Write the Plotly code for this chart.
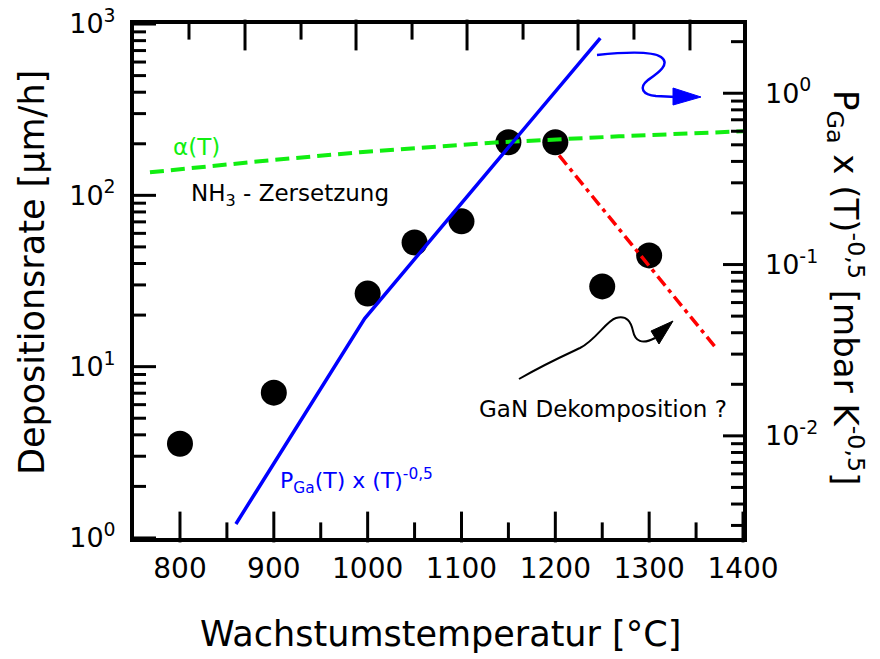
import plotly.graph_objects as go

# ---------------- data ----------------
temps = [800, 900, 1000, 1050, 1100, 1150, 1200, 1250, 1300]
rate = [3.55, 7.05, 26.7, 53.1, 70.5, 204, 204, 29.4, 44.6]

pga_T = [859.6, 996.8, 1247.9]
pga_val = [0.00306, 0.0484, 2.10]

alpha_T = [768, 885, 991.5, 1140, 1268, 1400]
alpha_val = [136.3, 158.1, 178.5, 204, 221, 236.7]

dek_T = [1204, 1371]
dek_val = [171, 12.9]

x_ticks = [800, 900, 1000, 1100, 1200, 1300, 1400]
x_minor = [850, 950, 1050, 1150, 1250, 1350]
top_major = [869.3, 987.6, 1105.9, 1224.2, 1343.5]
top_minor = [809.6, 929.0, 1047.3, 1165.6, 1283.8]

left_ticks = [1, 10, 100, 1000]
left_labels = ["10<sup>0</sup>", "10<sup>1</sup>", "10<sup>2</sup>", "10<sup>3</sup>"]
right_ticks = [0.01, 0.1, 1]
right_labels = ["10<sup>-2</sup>", "10<sup>-1</sup>", "10<sup>0</sup>"]

left_minor = [m * 10 ** e for e in range(0, 3) for m in range(2, 10)]
right_minor = [m * 10.0 ** e for e in range(-3, 1) for m in range(2, 10)]

X_RANGE = [751, 1400]
Y_RANGE = [-0.0002, 3.0002]
Y2_RANGE = [-2.5962, 0.4042]

FONT = "DejaVu Sans"
OFF = 8                      # default page margin of the html body
W, H = 880 - OFF, 659 - OFF
# plot area in window pixels: x 134..743, y 24..538
L, T = 134 - OFF, 24 - OFF
R, B = W - (743 - OFF), H - (538 - OFF)
PW, PH = W - L - R, H - T - B


def px(xp):
    return (xp - OFF - L) / PW


def py(yp):
    return (H - B - (yp - OFF)) / PH


x_per_px = (X_RANGE[1] - X_RANGE[0]) / PW
dec_per_px = (Y_RANGE[1] - Y_RANGE[0]) / PH

fig = go.Figure()

fig.add_trace(go.Scatter(x=temps, y=rate, mode="markers",
                         marker=dict(size=26, color="black"), showlegend=False))
fig.add_trace(go.Scatter(x=alpha_T, y=alpha_val, mode="lines",
                         line=dict(color="#11ee11", width=4, dash="14px,7px"),
                         showlegend=False))
fig.add_trace(go.Scatter(x=dek_T, y=dek_val, mode="lines",
                         line=dict(color="#ff0000", width=3.5, dash="12px,5px,4px,5px"),
                         showlegend=False))
fig.add_trace(go.Scatter(x=pga_T, y=pga_val, mode="lines", yaxis="y2",
                         line=dict(color="#0000ff", width=3.5), showlegend=False))

# bottom / top inside tick marks (vertical): short vertical line markers
TW = 3
for vals, ln, top in [(x_ticks, 22, False), (x_minor, 13, False),
                      (top_major, 22, True), (top_minor, 13, True)]:
    if top:
        yc = 10 ** (Y_RANGE[1] - ln / 2 * dec_per_px)
    else:
        yc = 10 ** (Y_RANGE[0] + ln / 2 * dec_per_px)
    fig.add_trace(go.Scatter(
        x=vals, y=[yc] * len(vals), mode="markers", showlegend=False,
        hoverinfo="skip", cliponaxis=False,
        marker=dict(symbol="line-ns", size=ln, color="black",
                    line=dict(color="black", width=TW))))

fig.update_layout(
    width=W, height=H,
    margin=dict(l=L, r=R, t=T, b=B, autoexpand=False),
    paper_bgcolor="white", plot_bgcolor="white",
    font=dict(family=FONT, color="black"),
    xaxis=dict(range=X_RANGE, tickvals=x_ticks, mirror=True, ticks="",
               showgrid=False, zeroline=False, showline=True, linewidth=4,
               linecolor="black", tickfont=dict(size=28), automargin=False,
               ticklabelstandoff=2, ticklabeloverflow="allow"),
    yaxis=dict(type="log", range=Y_RANGE, tickvals=left_ticks, ticktext=left_labels,
               mirror=True, showgrid=False, zeroline=False, ticks="",
               showline=True, linewidth=4, linecolor="black",
               tickfont=dict(size=27), automargin=False, ticklabelstandoff=9,
               ticklabeloverflow="allow"),
    yaxis2=dict(type="log", range=Y2_RANGE, overlaying="y", side="right",
                showgrid=False, zeroline=False, showline=False, ticks="",
                tickvals=right_ticks, ticktext=right_labels,
                tickfont=dict(size=27), automargin=False, ticklabelstandoff=21,
                ticklabeloverflow="allow"),
)

# left / right inside tick marks (horizontal)
shapes = []
for vals, ln, yref, rng, right in [(left_ticks, 22, "y", Y_RANGE, False),
                                   (left_minor, 12, "y", Y_RANGE, False),
                                   (right_ticks, 20, "y2", Y2_RANGE, True),
                                   (right_minor, 12, "y2", Y2_RANGE, True)]:
    for v in vals:
        if not (10 ** rng[0] <= v <= 10 ** rng[1]):
            continue
        if right:
            x0, x1 = X_RANGE[1], X_RANGE[1] - ln * x_per_px
        else:
            x0, x1 = X_RANGE[0], X_RANGE[0] + ln * x_per_px
        shapes.append(dict(type="line", xref="x", yref=yref, x0=x0, x1=x1,
                           y0=v, y1=v, line=dict(color="black", width=TW)))

# ---- curved annotation arrows (paper coordinates) ----
blue_path = "M {} {} C {} {} {} {} {} {} C {} {} {} {} {} {} C {} {} {} {} {} {} L {} {}".format(
    px(597), py(55), px(625), py(52), px(652), py(51), px(661), py(57),
    px(671), py(64), px(658), py(73), px(648), py(80),
    px(638), py(88), px(643), py(95), px(656), py(96), px(676), py(97))
shapes.append(dict(type="path", xref="paper", yref="paper", path=blue_path,
                   line=dict(color="#0000ff", width=2.5)))
shapes.append(dict(type="path", xref="paper", yref="paper",
                   path="M {} {} L {} {} L {} {} Z".format(px(673), py(88), px(701), py(97), px(673), py(105)),
                   fillcolor="#0000ff", line=dict(color="#0000ff", width=1)))

black_path = "M {} {} C {} {} {} {} {} {} C {} {} {} {} {} {} C {} {} {} {} {} {} C {} {} {} {} {} {}".format(
    px(519), py(379), px(545), py(364), px(565), py(355), px(580), py(348),
    px(596), py(340), px(606), py(321), px(616), py(318),
    px(627), py(315), px(631), py(322), px(633), py(331),
    px(635), py(341), px(642), py(345), px(655), py(338))
shapes.append(dict(type="path", xref="paper", yref="paper", path=black_path,
                   line=dict(color="black", width=2)))
shapes.append(dict(type="path", xref="paper", yref="paper",
                   path="M {} {} L {} {} L {} {} Z".format(px(651), py(331), px(673), py(321), px(659), py(344)),
                   fillcolor="black", line=dict(color="black", width=1)))

fig.update_layout(shapes=shapes)

ann = [
    dict(text="α(T)", x=px(196), y=py(147), font=dict(size=23, color="#11ee11")),
    dict(text="NH<sub>3</sub> - Zersetzung", x=px(290), y=py(195), font=dict(size=23)),
    dict(text="P<sub>Ga</sub>(T) x (T)<sup>-0,5</sup>", x=px(356), y=py(481),
         font=dict(size=22, color="#0000ff")),
    dict(text="GaN Dekomposition ?", x=px(603), y=py(409), font=dict(size=23)),
    dict(text="Wachstumstemperatur [°C]", x=px(440), y=py(634), font=dict(size=35)),
    dict(text="Depositionsrate [µm/h]", x=px(32), y=py(273), textangle=-90,
         font=dict(size=35)),
    dict(text="P<sub>Ga</sub> x (T)<sup>-0,5</sup> [mbar K<sup>-0,5</sup>]",
         x=px(846), y=py(288), textangle=90, font=dict(size=34)),
]
for a in ann:
    a.update(xref="paper", yref="paper", showarrow=False, xanchor="center",
             yanchor="middle")
    a["font"].setdefault("family", FONT)
    a["font"].setdefault("color", "black")
fig.update_layout(annotations=ann)

fig.write_html("out.html")
